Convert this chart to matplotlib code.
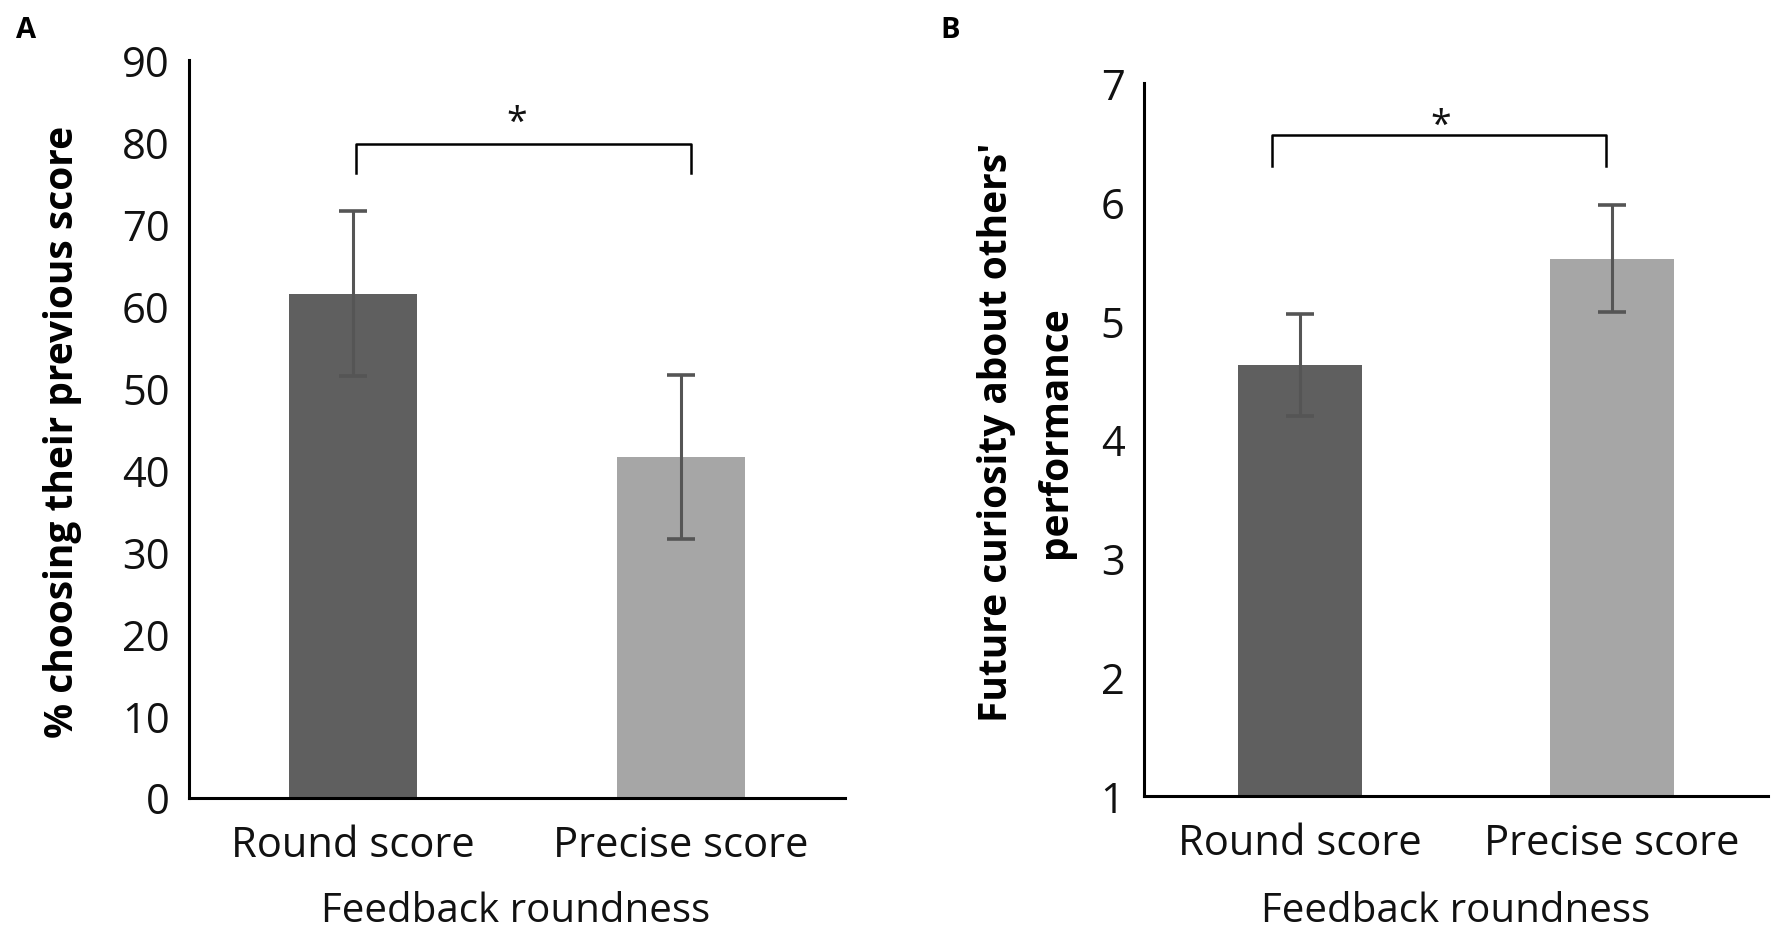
import matplotlib
matplotlib.use("Agg")
import matplotlib.pyplot as plt

plt.rcParams['font.family'] = ['Open Sans', 'DejaVu Sans']

# data
categories = ["Round score", "Precise score"]
pct_values = [61.5, 41.5]
pct_errors = [10.1, 10.0]
cur_values = [4.63, 5.52]
cur_errors = [0.43, 0.45]
bar_colors = ["#5f5f5f", "#a6a6a6"]

W, H = 1771, 937
fig = plt.figure(figsize=(W / 100, H / 100), dpi=100)
fig.patch.set_facecolor("white")

# axes positions in pixels: left, right, top, bottom
ax_a = fig.add_axes([189 / W, (H - 798.5) / H, (845 - 189) / W, (798.5 - 61) / H])
ax_b = fig.add_axes([1144 / W, (H - 797) / H, (1768 - 1144) / W, (797 - 84) / H])


def style_axis(ax):
    for side in ("top", "right"):
        ax.spines[side].set_visible(False)
    for side in ("left", "bottom"):
        ax.spines[side].set_linewidth(2.2)
        ax.spines[side].set_color("black")
    ax.tick_params(axis="both", length=0, labelsize=30, colors="#111111")
    ax.tick_params(axis="y", pad=14)
    ax.tick_params(axis="x", pad=19)


def draw_panel(ax, values, errors, ylim, yticks, width):
    x = range(len(categories))
    ax.bar(x, values, width=width, color=bar_colors, zorder=2)
    ax.errorbar(x, values, yerr=errors, fmt="none", ecolor="#555555",
                elinewidth=2.2, capsize=10, capthick=2.6, zorder=3)
    ax.set_xlim(-0.5, 1.5)
    ax.set_ylim(*ylim)
    ax.set_yticks(yticks)
    ax.set_xticks(list(x))
    ax.set_xticklabels(categories)
    style_axis(ax)


def bracket(ax, x0, x1, y_top, y_end, star_x, star_y):
    ax.plot([x0, x0, x1, x1], [y_end, y_top, y_top, y_end],
            color="black", lw=1.8, solid_joinstyle="round", zorder=4)
    ax.text(star_x, star_y, "*", ha="center", va="center", fontsize=27,
            color="#111111")


# panel A
draw_panel(ax_a, pct_values, pct_errors, (0, 90), range(0, 91, 10), 0.39)
bracket(ax_a, 0.01, 1.03, 79.7, 76.2, 0.5, 82.3)

# panel B
draw_panel(ax_b, cur_values, cur_errors, (1, 7), range(1, 8), 0.40)
bracket(ax_b, -0.09, 0.98, 6.56, 6.30, 0.45, 6.64)

# y labels
fig.text(63 / W, 1 - 432 / H, "% choosing their previous score", rotation=90,
         ha="center", va="center", fontsize=28, fontweight="bold")
fig.text(1026 / W, 1 - 432 / H, "Future curiosity about others'\nperformance",
         rotation=90, ha="center", va="center", fontsize=28,
         fontweight="bold", linespacing=1.7, multialignment="center")

# x labels
fig.text(516 / W, 1 - 912 / H, "Feedback roundness", ha="center", va="center",
         fontsize=29, color="#111111")
fig.text(1456 / W, 1 - 912 / H, "Feedback roundness", ha="center", va="center",
         fontsize=29, color="#111111")

# panel letters
fig.text(26 / W, 1 - 30 / H, "A", ha="center", va="center", fontsize=21,
         fontweight="bold")
fig.text(950 / W, 1 - 30 / H, "B", ha="center", va="center", fontsize=21,
         fontweight="bold")

fig.savefig("out.png", dpi=100)
